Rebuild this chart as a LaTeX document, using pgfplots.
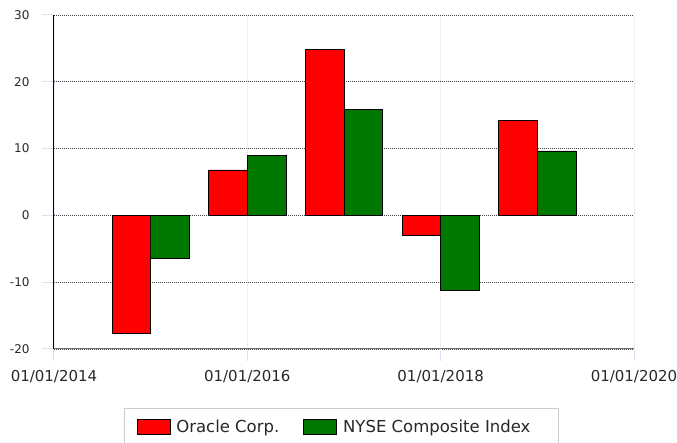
\documentclass[border=0pt]{standalone}
\usepackage{pgfplots}
\pgfplotsset{compat=1.18}
\usepackage{fontspec}
\setmainfont{DejaVu Sans}
\definecolor{orared}{RGB}{255,0,0}
\definecolor{nysegreen}{RGB}{0,120,0}
\definecolor{tickblue}{RGB}{215,228,245}
\definecolor{legframe}{RGB}{205,205,205}
\definecolor{labgray}{RGB}{40,40,40}
\begin{document}
\begin{tikzpicture}[x=1pt,y=1pt]
\useasboundingbox (0,0) rectangle (677,443);
\begin{axis}[
  at={(54pt,94pt)}, anchor=south west,
  scale only axis, width=580pt, height=334pt,
  xmin=2014, xmax=2020, ymin=-20, ymax=30,
  axis lines*=left,
  x axis line style={draw={rgb,255:red,110;green,110;blue,110}, line width=1pt},
  y axis line style={draw=black, line width=1pt},
  xtick={2014,2016,2018,2020},
  xticklabels={01/01/2014,01/01/2016,01/01/2018,01/01/2020},
  ytick={-20,-10,0,10,20,30},
  yticklabels={-20,-10,0,10,20,30},
  tick align=outside,
  major tick length=12pt,
  tick style={draw=tickblue, line width=1pt},
  xticklabel style={font=\fontsize{15}{18}\selectfont, text=labgray, yshift=-6pt},
  yticklabel style={font=\fontsize{12}{14}\selectfont, text=labgray, xshift=-9pt},
  ymajorgrids, xmajorgrids,
  y grid style={draw=black!75, line width=0.9pt, dash pattern=on 1pt off 1pt},
  x grid style={draw=tickblue, line width=0.9pt, dash pattern=on 1pt off 1pt},
  ybar, bar width=0.4,
  legend columns=2,
  legend image code/.code={\draw[#1,draw=black,line width=0.8pt] (0pt,-7.5pt) rectangle (33pt,7.5pt);},
  legend style={draw=legframe, line width=1pt,
    at={(axis description cs:0.1207,-0.1757)}, anchor=north west,
    font=\fontsize{16.5}{19}\selectfont, text=labgray,
    inner xsep=12pt, inner ysep=10pt,
    /tikz/every odd column/.append style={column sep=4pt},
    /tikz/every even column/.append style={column sep=22pt}},
]
\addplot[fill=orared, draw=black, line width=0.8pt, bar shift=-0.2] coordinates {
  (2015,-17.7) (2016,6.8) (2017,24.85) (2018,-3.0) (2019,14.25)};
\addlegendentry{Oracle Corp.}
\addplot[fill=nysegreen, draw=black, line width=0.8pt, bar shift=0.2] coordinates {
  (2015,-6.5) (2016,9.0) (2017,15.8) (2018,-11.2) (2019,9.65)};
\addlegendentry{NYSE Composite Index\hspace*{14pt}}
\end{axis}
\end{tikzpicture}
\end{document}
